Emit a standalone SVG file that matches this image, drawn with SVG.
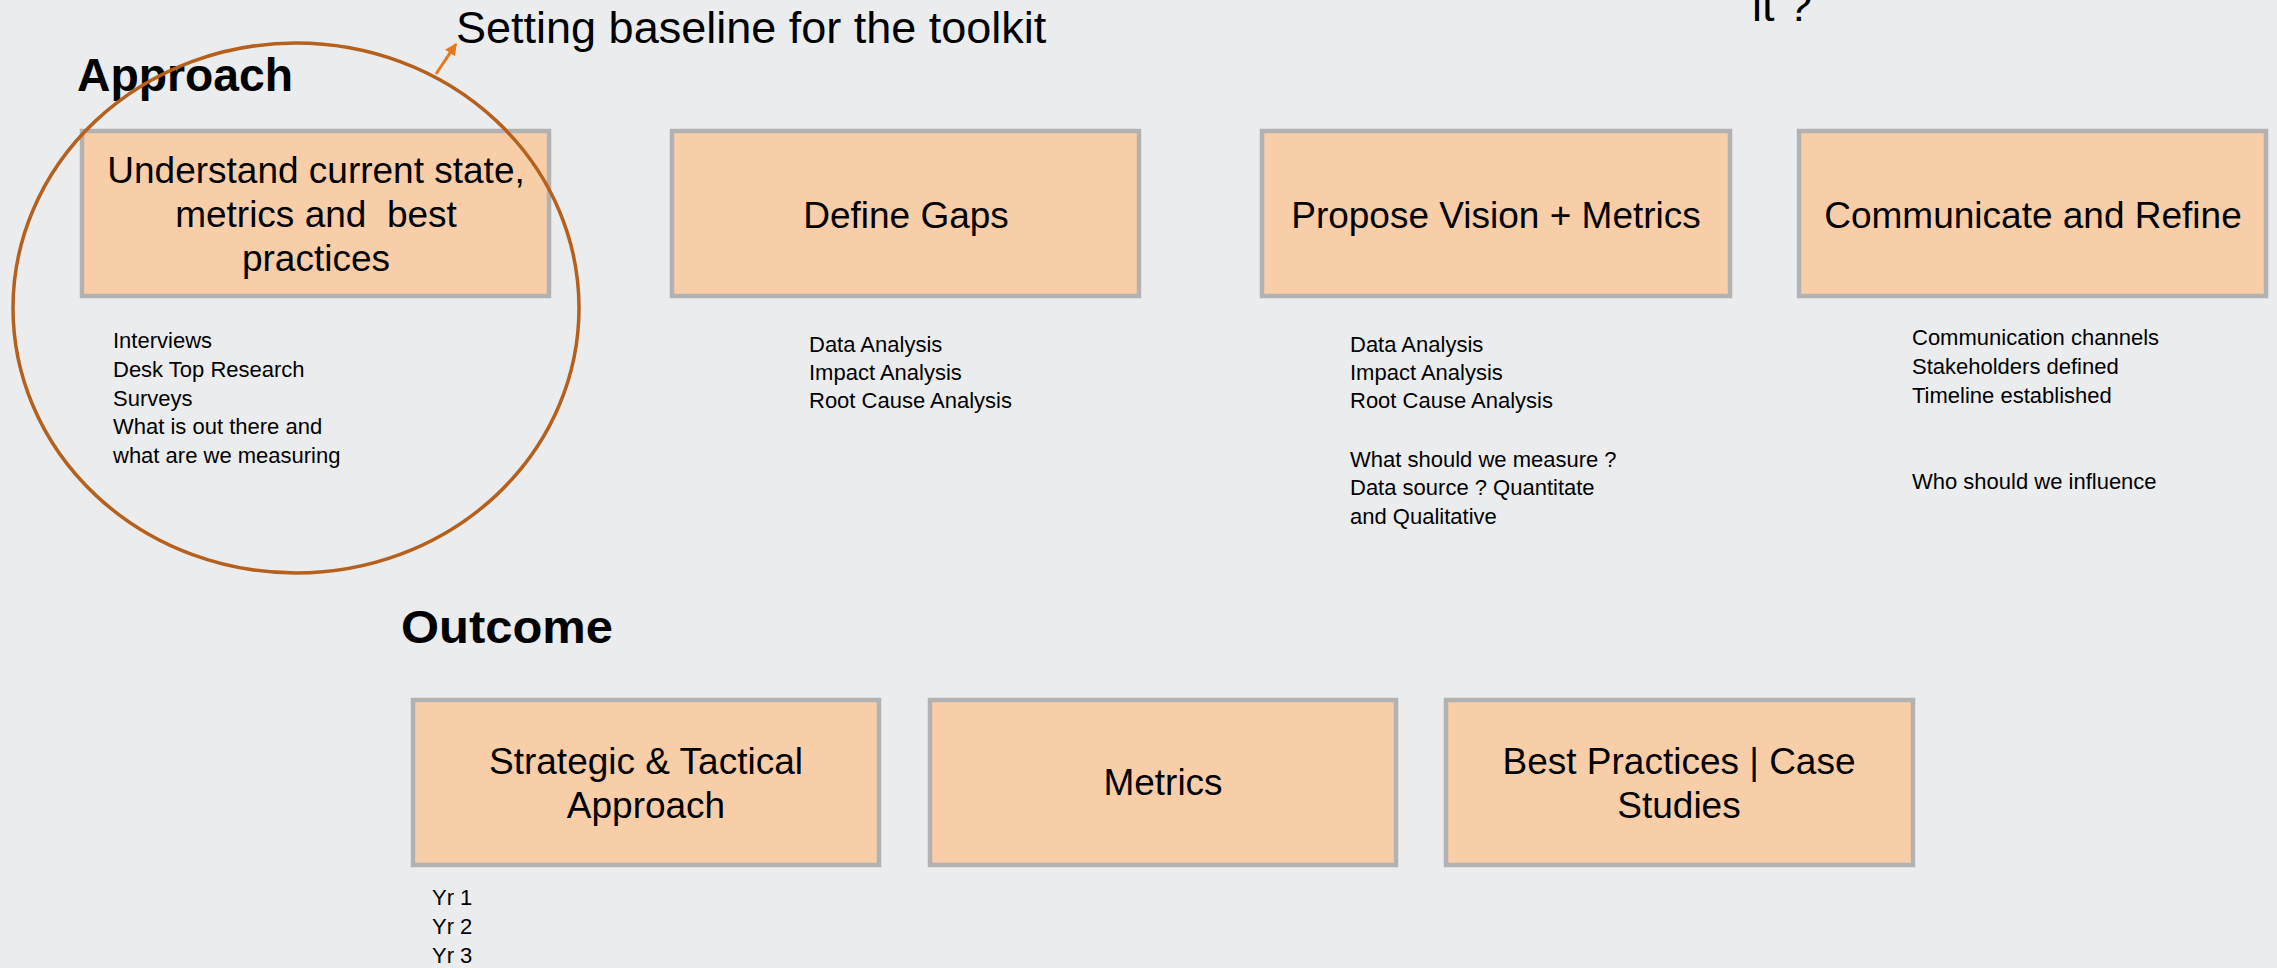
<svg xmlns="http://www.w3.org/2000/svg" width="2277" height="968" viewBox="0 0 2277 968">
<style>
.box{fill:#f8cea8;stroke:#b2b2b2;stroke-width:4.5}
.bt{font-family:"Liberation Sans",Arial,sans-serif;font-size:37px;fill:#000;text-anchor:middle;white-space:pre}
.hd{font-family:"Liberation Sans",Arial,sans-serif;font-size:46px;font-weight:bold;fill:#000}
.big{font-family:"Liberation Sans",Arial,sans-serif;font-size:45px;fill:#000}
.sm{font-family:"Liberation Sans",Arial,sans-serif;font-size:22px;fill:#000}
</style>
<defs>
<marker id="ah" viewBox="0 0 10 10" refX="9" refY="5" markerWidth="4" markerHeight="4" orient="auto" markerUnits="strokeWidth">
<path d="M0,0 L10,5 L0,10 z" fill="#e8781e"/>
</marker>
</defs>
<rect width="2277" height="968" fill="#ebecee"/>
<text class="big" x="1752" y="21">it ?</text>
<text class="big" x="456" y="43">Setting baseline for the toolkit</text>
<text class="hd" x="77" y="91" textLength="216" lengthAdjust="spacingAndGlyphs">Approach</text>
<text class="hd" x="401" y="643" textLength="212" lengthAdjust="spacingAndGlyphs">Outcome</text>

<g id="n-understand">
<rect class="box" x="82" y="131" width="467" height="165"/>
<text class="bt"><tspan x="316" y="183">Understand current state,</tspan><tspan x="316" y="227">metrics and  best</tspan><tspan x="316" y="271">practices</tspan></text>
</g>
<g id="n-gaps">
<rect class="box" x="672" y="131" width="467" height="165"/>
<text class="bt" x="906" y="228">Define Gaps</text>
</g>
<g id="n-vision">
<rect class="box" x="1262" y="131" width="468" height="165"/>
<text class="bt" x="1496" y="228">Propose Vision + Metrics</text>
</g>
<g id="n-communicate">
<rect class="box" x="1799" y="131" width="467" height="165"/>
<text class="bt" x="2033" y="228">Communicate and Refine</text>
</g>

<g id="l-understand">
<text class="sm"><tspan x="113" y="348">Interviews</tspan><tspan x="113" y="377">Desk Top Research</tspan><tspan x="113" y="406">Surveys</tspan><tspan x="113" y="434">What is out there and</tspan><tspan x="113" y="463">what are we measuring</tspan></text>
</g>
<g id="l-gaps">
<text class="sm"><tspan x="809" y="352">Data Analysis</tspan><tspan x="809" y="380">Impact Analysis</tspan><tspan x="809" y="408">Root Cause Analysis</tspan></text>
</g>
<g id="l-vision">
<text class="sm"><tspan x="1350" y="352">Data Analysis</tspan><tspan x="1350" y="380">Impact Analysis</tspan><tspan x="1350" y="408">Root Cause Analysis</tspan><tspan x="1350" y="467">What should we measure ?</tspan><tspan x="1350" y="495">Data source ? Quantitate</tspan><tspan x="1350" y="524">and Qualitative</tspan></text>
</g>
<g id="l-communicate">
<text class="sm"><tspan x="1912" y="345">Communication channels</tspan><tspan x="1912" y="374">Stakeholders defined</tspan><tspan x="1912" y="403">Timeline established</tspan><tspan x="1912" y="489">Who should we influence</tspan></text>
</g>

<g id="n-strategic">
<rect class="box" x="413" y="700" width="466" height="165"/>
<text class="bt"><tspan x="646" y="774">Strategic &amp; Tactical</tspan><tspan x="646" y="818">Approach</tspan></text>
</g>
<g id="n-metrics">
<rect class="box" x="930" y="700" width="466" height="165"/>
<text class="bt" x="1163" y="795">Metrics</text>
</g>
<g id="n-best">
<rect class="box" x="1446" y="700" width="467" height="165"/>
<text class="bt"><tspan x="1679" y="774">Best Practices | Case</tspan><tspan x="1679" y="818">Studies</tspan></text>
</g>
<g id="l-strategic">
<text class="sm"><tspan x="432" y="905">Yr 1</tspan><tspan x="432" y="934">Yr 2</tspan><tspan x="432" y="963">Yr 3</tspan></text>
</g>

<g id="connectors">
<ellipse cx="296" cy="308" rx="283" ry="265" fill="none" stroke="#b5601c" stroke-width="3.5"/>
<line x1="436" y1="74" x2="456" y2="44" stroke="#e8781e" stroke-width="3" marker-end="url(#ah)"/>
</g>
</svg>
